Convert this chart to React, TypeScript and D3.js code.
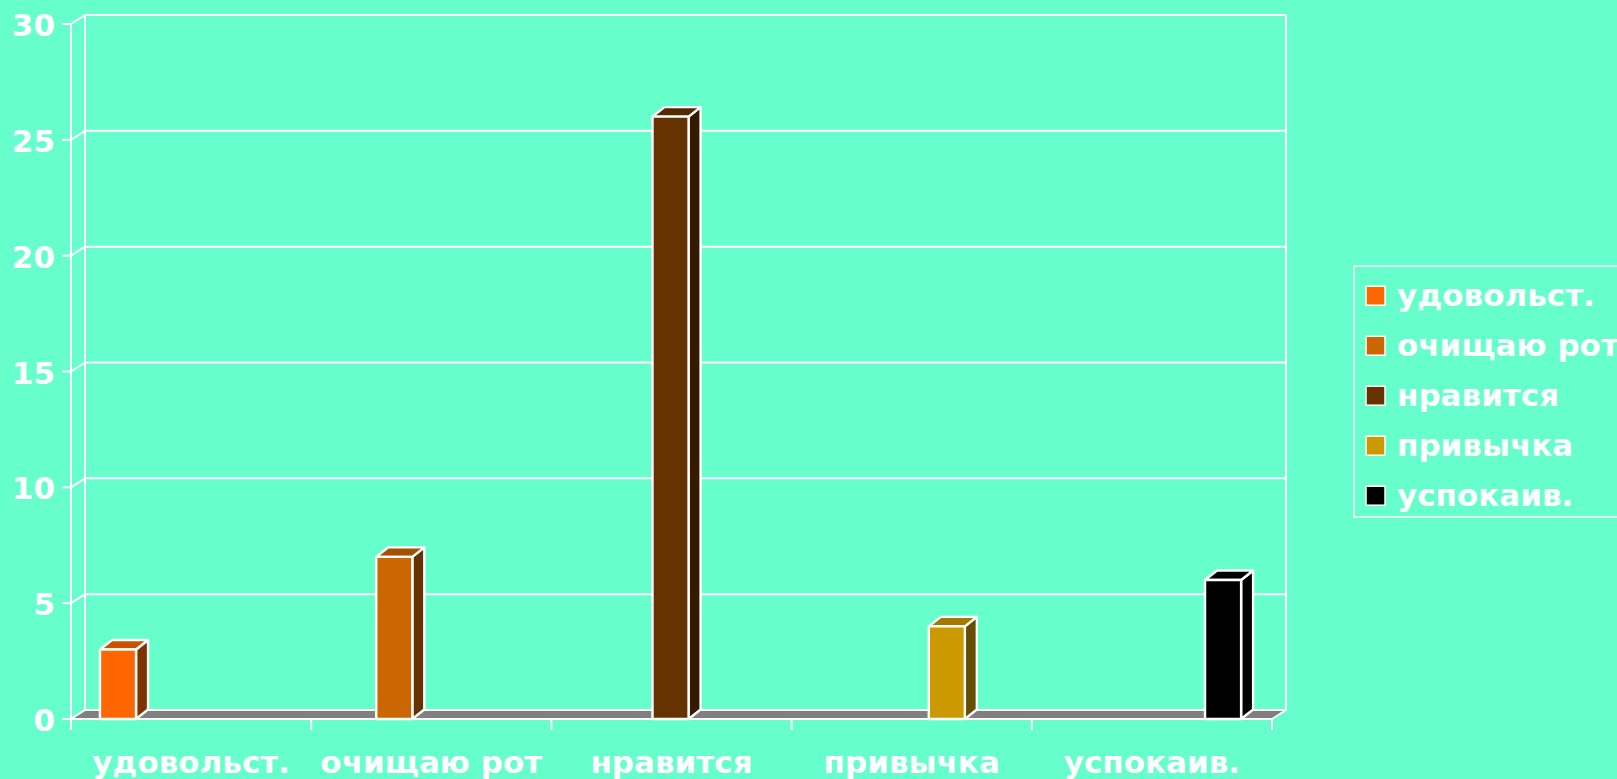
import React from "react";
import * as d3 from "d3";

// Categories (one series per category, as in a clustered 3D column chart)
const categories = ["удовольст.", "очищаю рот", "нравится", "привычка", "успокаив."];
const seriesNames = ["удовольст.", "очищаю рот", "нравится", "привычка", "успокаив."];
const seriesValues = [3, 7, 26, 4, 6];
const seriesColors = ["#FF6600", "#CC6600", "#663300", "#CC9900", "#000000"];
const yTicks = [0, 5, 10, 15, 20, 25, 30];

const W = 1617;
const H = 779;
const BG = "#66FFCC";
const FONT = "'DejaVu Sans', Verdana, sans-serif";
const FS = 31;

// 3D depth offsets
const WALL_DX = 14;
const WALL_DY = -9;
const BAR_DX = 12;
const BAR_DY = -9.5;

export default function App() {
  const x0 = d3.scaleBand<string>().domain(categories).range([71, 1272]).padding(0);
  const x1 = d3
    .scaleBand<string>()
    .domain(seriesNames)
    .range([0, x0.bandwidth()])
    .paddingInner(0)
    .paddingOuter(0.83)
    .align(0.484);
  const y = d3.scaleLinear().domain([0, 30]).range([719, 24]);

  const [xl, xr] = x0.range();
  const y0 = y(0);
  const yTop = y(30);

  const shade = (c: string, k: number) => {
    const col = d3.rgb(c);
    return d3.rgb(col.r * k, col.g * k, col.b * k).formatHex();
  };

  const pts = (arr: [number, number][]) => arr.map((p) => p.join(",")).join(" ");
  const LW = 2;

  return (
    <svg
      width={W}
      height={H}
      style={{ position: "absolute", left: 0, top: 0, display: "block" }}
      fontFamily={FONT}
    >
      <rect x={0} y={0} width={W} height={H} fill={BG} />

      {/* back wall and side wall gridlines */}
      {yTicks.map((t) => (
        <g key={"g" + t} stroke="#ffffff" strokeWidth={LW} fill="none">
          <line x1={xl + WALL_DX} x2={xr + WALL_DX} y1={y(t) + WALL_DY} y2={y(t) + WALL_DY} />
          <line x1={xl} x2={xl + WALL_DX} y1={y(t)} y2={y(t) + WALL_DY} />
          <line x1={xl - 9} x2={xl} y1={y(t)} y2={y(t)} />
        </g>
      ))}
      <line x1={xl + WALL_DX} x2={xl + WALL_DX} y1={yTop + WALL_DY} y2={y0 + WALL_DY} stroke="#fff" strokeWidth={LW} />
      <line x1={xr + WALL_DX} x2={xr + WALL_DX} y1={yTop + WALL_DY} y2={y0 + WALL_DY} stroke="#fff" strokeWidth={LW} />
      <line x1={xl} x2={xl} y1={yTop} y2={y0} stroke="#fff" strokeWidth={LW} />

      {/* floor */}
      <polygon
        points={pts([
          [xl, y0],
          [xl + WALL_DX, y0 + WALL_DY],
          [xr + WALL_DX, y0 + WALL_DY],
          [xr, y0],
        ])}
        fill="#808080"
        stroke="#ffffff"
        strokeWidth={LW}
        strokeLinejoin="round"
      />

      {/* category ticks */}
      {[...categories.map((c) => x0(c) as number), xr].map((xx, i) => (
        <line key={"xt" + i} x1={xx} x2={xx} y1={y0} y2={y0 + 11} stroke="#fff" strokeWidth={LW} />
      ))}

      {/* bars */}
      {categories.map((c, i) => {
        const name = seriesNames[i];
        const v = seriesValues[i];
        const color = seriesColors[i];
        const bx = (x0(c) as number) + (x1(name) as number);
        const bw = x1.bandwidth();
        const top = y(v);
        return (
          <g key={"b" + i} stroke="#ffffff" strokeWidth={2.4} strokeLinejoin="round">
            <polygon
              points={pts([
                [bx + bw, y0],
                [bx + bw + BAR_DX, y0 + BAR_DY],
                [bx + bw + BAR_DX, top + BAR_DY],
                [bx + bw, top],
              ])}
              fill={shade(color, 0.5)}
            />
            <polygon
              points={pts([
                [bx, top],
                [bx + BAR_DX, top + BAR_DY],
                [bx + bw + BAR_DX, top + BAR_DY],
                [bx + bw, top],
              ])}
              fill={shade(color, 0.8)}
            />
            <rect x={bx} y={top} width={bw} height={y0 - top} fill={color} />
          </g>
        );
      })}

      {/* y axis labels */}
      {yTicks.map((t) => (
        <text
          key={"yl" + t}
          x={55}
          y={y(t) + 12}
          textAnchor="end"
          fill="#ffffff"
          fontSize={FS}
          fontWeight="bold"
        >
          {t}
        </text>
      ))}

      {/* x axis labels */}
      {categories.map((c) => (
        <text
          key={"xl" + c}
          x={(x0(c) as number) + x0.bandwidth() / 2}
          y={773}
          textAnchor="middle"
          fill="#ffffff"
          fontSize={FS}
          fontWeight="bold"
        >
          {c}
        </text>
      ))}

      {/* legend */}
      <g>
        <rect x={1354} y={266} width={300} height={251} fill="none" stroke="#ffffff" strokeWidth={1.5} />
        {seriesNames.map((s, i) => {
          const cy = 295.7 + i * 50;
          return (
            <g key={"lg" + i}>
              <rect x={1366} y={cy - 9.5} width={19} height={19} fill={seriesColors[i]} stroke="#ffffff" strokeWidth={1.5} />
              <text x={1397} y={cy + 10} fill="#ffffff" fontSize={FS} fontWeight="bold">
                {s}
              </text>
            </g>
          );
        })}
      </g>
    </svg>
  );
}
